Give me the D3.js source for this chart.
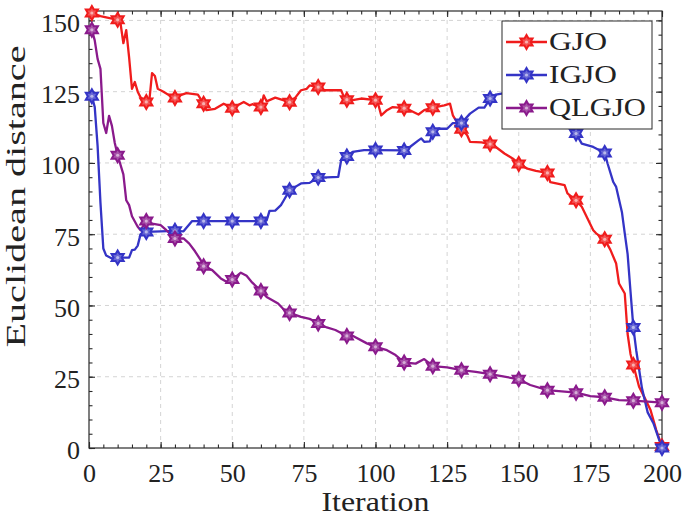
<!DOCTYPE html>
<html><head><meta charset="utf-8">
<script src="https://cdn.jsdelivr.net/npm/d3@7"></script>
<style>
body{margin:0;background:#fff}
svg{display:block}
</style>
</head><body><svg id="c" width="685" height="517"></svg>
<script>
const seriesNames = ["GJO", "IGJO", "QLGJO"];
const seriesColors = ["#f01c1c", "#3434c6", "#8a1a8c"];

const gjo = [[1,152.6],[4,151.5],[10,150.2],[11,149],[12,142],[13,146.6],[14,137],[15,126],[16,128.4],[17,125],[18,123],[20,121.4],[21,121.2],[22,131.5],[23,130.5],[24,126],[26,125],[28,123.7],[30,122.8],[32,123.8],[34,124.5],[38,124],[40,120.8],[41,118.5],[44,119],[47,120.8],[50,119.2],[54,121.4],[56,120.2],[57,120.6],[60,119.6],[61,123.7],[62,121.6],[65,122.9],[70,121.3],[72,122.9],[74,125.5],[76,126],[77,127.2],[80,126.6],[82,125.5],[88,125.5],[89,123.1],[90,122.2],[92,122],[95,122.6],[100,122],[101,120.4],[102,116.7],[104,118.5],[106,119.6],[110,119.2],[112,118.5],[115,117],[117,118.5],[120,119.4],[124,120.2],[126,120.8],[127,116.7],[130,111.8],[132,109.7],[133,107.4],[137,107.2],[140,106.6],[142,105.6],[145,103.3],[148,101.5],[150,99.6],[153,98],[156,97.2],[160,96.5],[161,93.3],[166,92.2],[167,89.3],[170,86.9],[172,84.6],[174,80.5],[176,76.4],[177,75.3],[180,73.2],[182,69.5],[184,64.7],[185,57.7],[187,54.2],[188,40],[189,33],[190,29.1],[192,21.5],[194,17.5],[196,13.3],[198,6.3],[200,0.5]];

const igjo = [[1,123.4],[2,119.6],[3,106],[4,86],[5,70],[6,67.5],[8,66.5],[10,66.8],[14,66.8],[15,69.4],[16,69.6],[17,71],[18,75],[20,75.8],[30,76.2],[33,76],[36,79.6],[40,79.6],[50,79.6],[60,79.6],[62,79.8],[63,83.2],[65,83.3],[67,85.2],[68,86.9],[70,90.4],[72,91.6],[74,92.8],[77,93],[80,94.9],[83,94.9],[87,95.1],[88,100.9],[90,102.3],[92,103.9],[96,104.5],[100,104.5],[110,104.4],[112,105.6],[115,107.9],[116,108.6],[117,107.4],[119,107.6],[120,110.9],[122,112],[125,112],[127,114],[130,114],[133,117.3],[136,119.4],[138,119.4],[140,122.6],[142,124],[145,124.5],[150,126],[155,127],[160,126.5],[164,121],[167,114],[168,111.8],[170,110.3],[172,106.8],[176,105.6],[180,103.5],[181,99.8],[183,93.3],[184,91.6],[186,82.8],[187,75.3],[188,68],[189,55],[190,42.3],[191,34.3],[193,21],[195,12.5],[197,8.7],[200,0]];

const qlgjo = [[1,146.7],[2,143],[3,136.5],[4,133],[5,114],[6,110.5],[7,116.5],[8,113],[9,107],[10,102.7],[12,96],[13,86.9],[14,85.2],[15,81.3],[17,77.6],[18,76.4],[20,79.6],[22,78.7],[25,78.2],[27,76.4],[30,73.5],[33,73.5],[35,71.7],[37,69],[39,65.9],[40,63.8],[43,62.4],[46,59.5],[48,58.3],[50,59.1],[53,61.5],[55,60.4],[57,58],[60,55.1],[62,53],[66,50.7],[68,48.6],[70,47.4],[74,46],[77,45.3],[78,44.8],[80,43.7],[83,42.3],[86,41.4],[90,39.3],[92,39.4],[97,36.7],[100,35.5],[104,34.3],[107,32.6],[110,30],[114,29.6],[117,31.2],[120,28.7],[125,28.3],[130,27.3],[135,26.7],[140,25.9],[144,25.2],[150,24.1],[154,22.1],[160,20.3],[165,19.9],[170,19.4],[175,18.2],[180,17.8],[185,16.8],[190,16.6],[200,15.9]];

const markerIterations = [1,10,20,30,40,50,60,70,80,90,100,110,120,130,140,150,160,170,180,190,200];
const xTickValues = [0,25,50,75,100,125,150,175,200];
const yTickValues = [0,25,50,75,100,125,150];
const xLabel = "Iteration";
const yLabel = "Euclidean distance";

const allSeries = [gjo, igjo, qlgjo];
const FONT = '"Liberation Serif", "Times New Roman", Times, serif';

const svg = d3.select("#c").style("font-family", FONT);
const L = 89, R = 662, T = 11, B = 448;
const x = d3.scaleLinear().domain([0, 200]).range([L, R]);
const y = d3.scaleLinear().domain([0, 153.3]).range([B, T]);
const axisColor = "#2a2a2a";
const textColor = "#222222";

// grid
const grid = svg.append("g");
grid.selectAll("line.gx").data(xTickValues.filter(v => v > 0 && v < 200)).join("line")
  .attr("x1", d => x(d)).attr("x2", d => x(d)).attr("y1", B).attr("y2", T)
  .attr("stroke", "#d4d4d4").attr("stroke-width", 1).attr("stroke-dasharray", "4,4");
grid.selectAll("line.gy").data(yTickValues.filter(v => v > 0)).join("line")
  .attr("y1", d => y(d)).attr("y2", d => y(d)).attr("x1", L).attr("x2", R)
  .attr("stroke", "#d4d4d4").attr("stroke-width", 1).attr("stroke-dasharray", "4,4");

// axes
const minorX = d3.range(0, 201, 5);
const minorY = d3.range(0, 154, 5);
function styleAxis(g) {
  g.attr("font-family", null).attr("font-size", null);
  g.select(".domain").remove();
  g.selectAll("line").attr("stroke", axisColor).attr("stroke-width", 1.1);
  g.selectAll("text").style("font-family", FONT).style("font-size", "26px")
    .style("font-weight", "normal").attr("fill", textColor);
}
svg.append("g").attr("transform", `translate(0,${B})`)
  .call(d3.axisBottom(x).tickValues(xTickValues).tickSize(-6).tickPadding(16).tickFormat(d3.format("d"))).call(styleAxis);
svg.append("g").attr("transform", `translate(0,${B})`)
  .call(d3.axisBottom(x).tickValues(minorX).tickSize(-3.5).tickFormat("")).call(styleAxis);
svg.append("g").attr("transform", `translate(0,${T})`)
  .call(d3.axisTop(x).tickValues(xTickValues).tickSize(-6).tickFormat("")).call(styleAxis);
svg.append("g").attr("transform", `translate(0,${T})`)
  .call(d3.axisTop(x).tickValues(minorX).tickSize(-3.5).tickFormat("")).call(styleAxis);
const yAx = svg.append("g").attr("transform", `translate(${L},0)`)
  .call(d3.axisLeft(y).tickValues(yTickValues).tickSize(-6).tickPadding(9).tickFormat(d3.format("d"))).call(styleAxis);
yAx.selectAll("text").attr("dy", "0.42em");
svg.append("g").attr("transform", `translate(${L},0)`)
  .call(d3.axisLeft(y).tickValues(minorY).tickSize(-3.5).tickFormat("")).call(styleAxis);
svg.append("g").attr("transform", `translate(${R},0)`)
  .call(d3.axisRight(y).tickValues(yTickValues).tickSize(-6).tickFormat("")).call(styleAxis);
svg.append("g").attr("transform", `translate(${R},0)`)
  .call(d3.axisRight(y).tickValues(minorY).tickSize(-3.5).tickFormat("")).call(styleAxis);

svg.append("rect").attr("x", L).attr("y", T).attr("width", R - L).attr("height", B - T)
  .attr("fill", "none").attr("stroke", axisColor).attr("stroke-width", 1.2);

// hexagram marker
function hexagram(r) {
  const ri = r / Math.sqrt(3);
  const pts = [];
  for (let k = 0; k < 12; k++) {
    const a = -Math.PI / 2 + k * Math.PI / 6;
    const rr = k % 2 === 0 ? r : ri;
    pts.push([rr * Math.cos(a), rr * Math.sin(a)]);
  }
  return "M" + pts.map(p => p[0].toFixed(2) + "," + p[1].toFixed(2)).join("L") + "Z";
}
const starPath = hexagram(7);
function lighten(c, t) { return d3.interpolateRgb(c, "#ffffff")(t); }

function drawMarker(sel, color) {
  sel.append("path").attr("d", starPath)
    .attr("fill", lighten(color, 0.25))
    .attr("stroke", color).attr("stroke-width", 2).attr("stroke-linejoin", "miter");
  sel.append("circle").attr("r", 1.6).attr("fill", lighten(color, 0.65));
}

const line = d3.line().x(d => x(d[0])).y(d => y(d[1]));
allSeries.forEach((s, i) => {
  svg.append("path").datum(s).attr("d", line).attr("fill", "none")
    .attr("stroke", seriesColors[i]).attr("stroke-width", 2.3).attr("stroke-linejoin", "round");
});
allSeries.forEach((s, i) => {
  const pts = s.filter(d => markerIterations.includes(d[0]));
  svg.append("g").selectAll("g").data(pts).join("g")
    .attr("transform", d => `translate(${x(d[0])},${y(d[1])})`)
    .each(function () { drawMarker(d3.select(this), seriesColors[i]); });
});

// axis titles
svg.append("text").attr("x", x(100)).attr("y", 511).attr("text-anchor", "middle")
  .style("font-family", FONT).style("font-size", "27px").attr("fill", textColor)
  .attr("textLength", 108).attr("lengthAdjust", "spacingAndGlyphs").text(xLabel);
svg.append("text").attr("transform", `translate(25,${(45 + 348) / 2}) rotate(-90)`).attr("text-anchor", "middle")
  .style("font-family", FONT).style("font-size", "28px").attr("fill", textColor)
  .attr("textLength", 302).attr("lengthAdjust", "spacingAndGlyphs").text(yLabel);

// legend
const lg = svg.append("g");
lg.append("rect").attr("x", 502).attr("y", 21).attr("width", 150).attr("height", 108)
  .attr("fill", "#fff").attr("stroke", axisColor).attr("stroke-width", 1);
const legendY = [42, 75, 108];
const legendLen = [58, 68, 97];
seriesNames.forEach((n, i) => {
  const yy = legendY[i];
  lg.append("line").attr("x1", 506).attr("x2", 547).attr("y1", yy).attr("y2", yy)
    .attr("stroke", seriesColors[i]).attr("stroke-width", 2.3);
  const mg = lg.append("g").attr("transform", `translate(526.5,${yy})`);
  drawMarker(mg, seriesColors[i]);
  lg.append("text").attr("x", 549).attr("y", yy + 8)
    .style("font-family", FONT).style("font-size", "26px").attr("fill", textColor)
    .attr("textLength", legendLen[i]).attr("lengthAdjust", "spacingAndGlyphs").text(n);
});
</script>
</body></html>
